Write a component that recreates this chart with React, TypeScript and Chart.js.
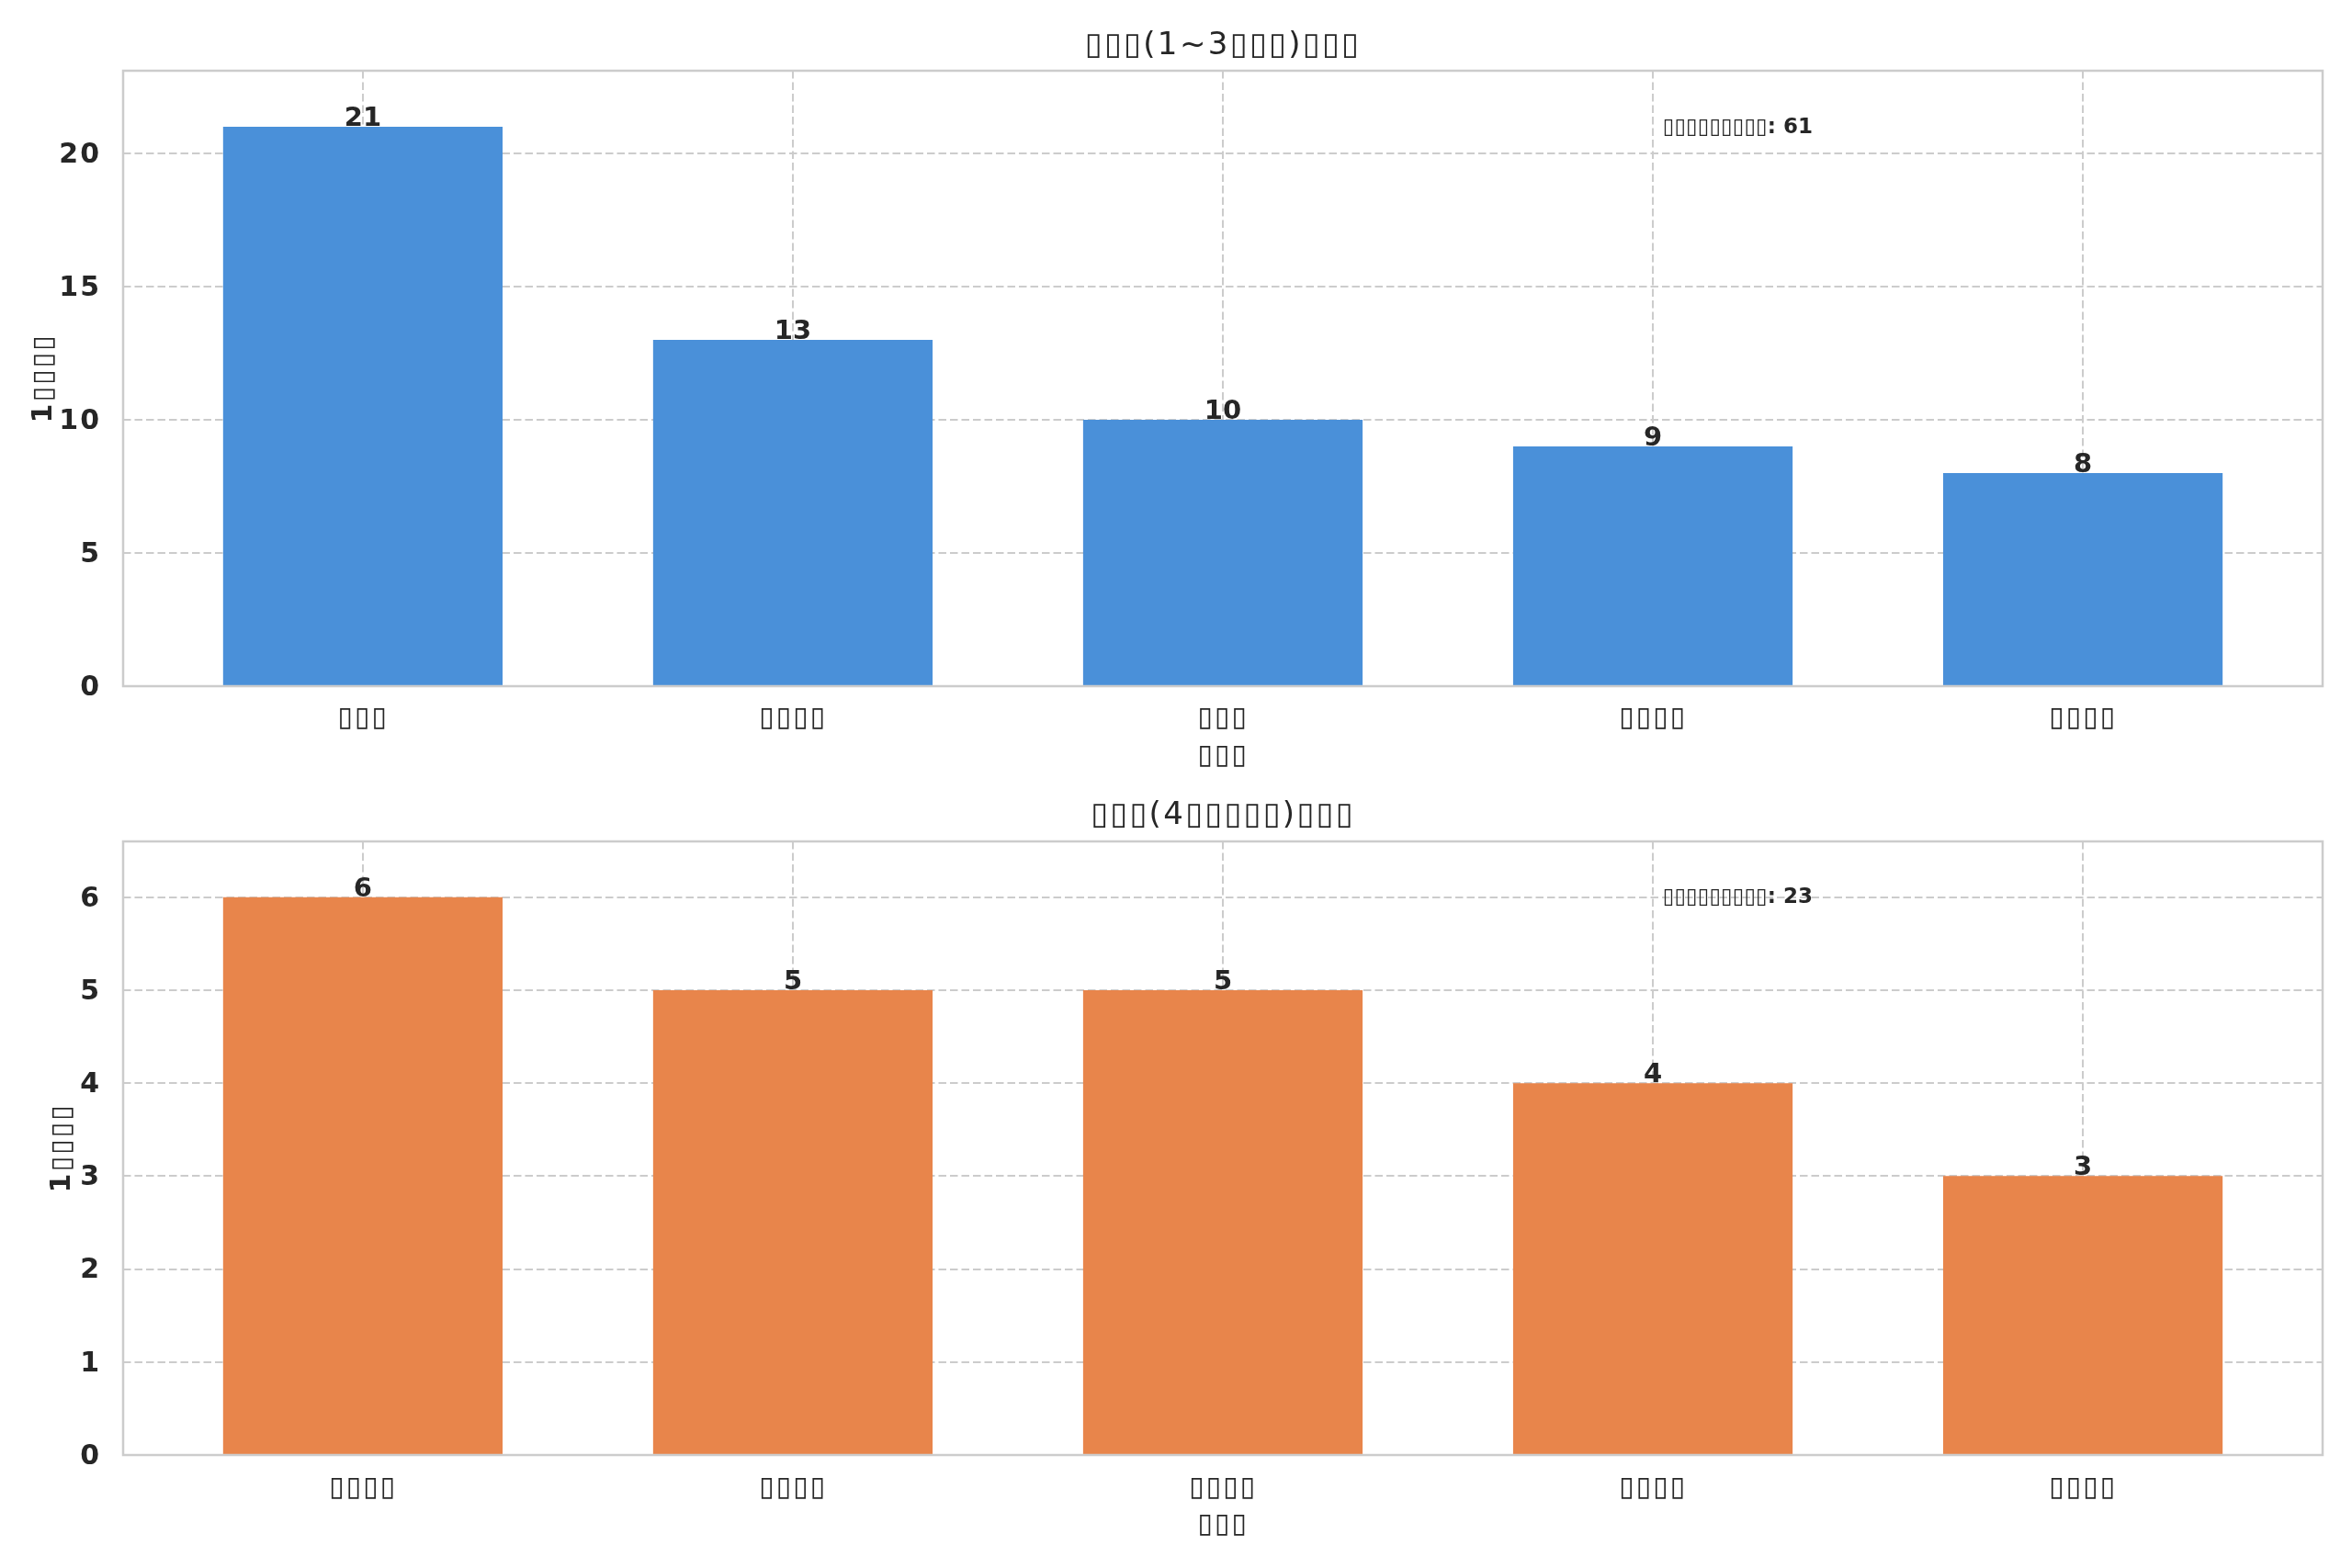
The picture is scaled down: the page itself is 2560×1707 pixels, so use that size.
import { useEffect, useRef } from 'react'
import { Chart, registerables } from 'chart.js'

Chart.register(...registerables)

// the reference renders every CJK glyph as an empty box
const TOFU = '\u25AF'
const box = (n: number) => TOFU.repeat(n)

const shortCategories = [box(3), box(4), box(3), box(4), box(4)]
const shortCounts = [21, 13, 10, 9, 8]
const shortTicks = [0, 5, 10, 15, 20]

const longCategories = [box(4), box(4), box(4), box(4), box(4)]
const longCounts = [6, 5, 5, 4, 3]
const longTicks = [0, 1, 2, 3, 4, 5, 6]

const shortTitle = `${box(3)}(1~3${box(3)})${box(3)}`
const longTitle = `${box(3)}(4${box(5)})${box(3)}`
const yLabel = `1${box(4)}`
const xLabel = box(3)
const totalLabel = box(9)

const FONT = "'DejaVu Sans', sans-serif"
const TEXT = '#262626'
const GRID = '#cccccc'

interface PanelProps {
  categories: string[]
  counts: number[]
  yTicks: number[]
  color: string
  title: string
  height: number
  areaTop: number
  titleY: number
  yTitlePad: number
  xAxisHeight: number
  xTickPad: number
  xTitlePad: number
}

function BarPanel(props: PanelProps) {
  const chartRef = useRef<HTMLCanvasElement>(null)
  const chartInstance = useRef<Chart | null>(null)

  useEffect(() => {
    if (!chartRef.current) return
    if (chartInstance.current) chartInstance.current.destroy()
    const ctx = chartRef.current.getContext('2d')
    if (!ctx) return

    const { categories, counts, yTicks } = props
    const total = counts.reduce((a, b) => a + b, 0)
    const yMax = Math.max(...counts) * 1.1
    const xPad = 0.325 + 0.05 * (categories.length - 1 + 0.65)

    const framePlugin = {
      id: 'frame',
      beforeDraw(chart: Chart) {
        // matplotlib's missing-glyph boxes run a little wider than the box character
        ;(chart.ctx as any).letterSpacing = '2px'
      },
      beforeDatasetsDraw(chart: Chart) {
        ;(chart.ctx as any).letterSpacing = '0px'
      },
      afterDatasetsDraw(chart: Chart) {
        const { ctx: c, chartArea: a } = chart
        c.save()

        // title centred over the plot area
        ;(c as any).letterSpacing = '2.4px'
        c.fillStyle = TEXT
        c.font = `normal 34px ${FONT}`
        c.textAlign = 'center'
        c.textBaseline = 'middle'
        c.fillText(props.title, (a.left + a.right) / 2, props.titleY)
        ;(c as any).letterSpacing = '0px'

        // value labels above the bars
        c.font = `bold 29px ${FONT}`
        c.textBaseline = 'alphabetic'
        chart.getDatasetMeta(0).data.forEach((bar: any, i: number) => {
          c.fillText(String(counts[i]), bar.x, bar.y - 1)
        })

        // total note
        c.font = `bold 23px ${FONT}`
        c.textAlign = 'left'
        c.fillText(
          `${totalLabel}: ${total}`,
          a.left + 0.7 * (a.right - a.left),
          a.bottom - 0.899 * (a.bottom - a.top)
        )

        // spines all around
        c.strokeStyle = GRID
        c.lineWidth = 2.5
        c.strokeRect(a.left, a.top, a.right - a.left, a.bottom - a.top)
        c.restore()
      },
    }

    chartInstance.current = new Chart(ctx, {
      type: 'bar',
      data: {
        datasets: [
          {
            data: counts.map((v, i) => ({ x: i, y: v })),
            backgroundColor: props.color,
            borderWidth: 0,
            categoryPercentage: 1,
            barPercentage: 0.65,
          },
        ],
      },
      options: {
        animation: false,
        responsive: true,
        maintainAspectRatio: false,
        layout: { padding: { left: 0, right: 32, top: props.areaTop, bottom: 0 } },
        plugins: {
          legend: { display: false },
          tooltip: { enabled: false },
          title: { display: false },
        },
        scales: {
          x: {
            type: 'linear',
            min: -xPad,
            max: categories.length - 1 + xPad,
            offset: false,
            afterBuildTicks: (axis: any) => {
              axis.ticks = categories.map((_, i) => ({ value: i }))
            },
            afterFit: (axis: any) => {
              axis.height = props.xAxisHeight
            },
            grid: {
              offset: false,
              color: GRID,
              lineWidth: 2,
              drawTicks: false,
            },
            border: { display: false, dash: [8.5, 4] },
            ticks: {
              autoSkip: false,
              maxRotation: 0,
              padding: props.xTickPad,
              color: TEXT,
              font: { family: FONT, size: 30, lineHeight: 1.2 },
              callback: (v: any) => categories[Math.round(Number(v))] ?? '',
            },
            title: {
              display: true,
              text: xLabel,
              color: TEXT,
              font: { family: FONT, size: 30, lineHeight: 1.2 },
              padding: { top: 0, bottom: props.xTitlePad },
            },
          },
          y: {
            min: 0,
            max: yMax,
            afterBuildTicks: (axis: any) => {
              axis.ticks = yTicks.map((v) => ({ value: v }))
            },
            afterFit: (axis: any) => {
              axis.width = 134
            },
            grid: {
              color: GRID,
              lineWidth: 2,
              drawTicks: false,
            },
            border: { display: false, dash: [8.5, 4] },
            ticks: {
              padding: 24,
              labelOffset: 2,
              color: TEXT,
              font: { family: FONT, size: 30, weight: 'bold' },
            },
            title: {
              display: true,
              text: yLabel,
              color: TEXT,
              font: { family: FONT, size: 30, weight: 'bold', lineHeight: 1.2 },
              padding: { top: props.yTitlePad, bottom: 0 },
            },
          },
        },
      },
      plugins: [framePlugin],
    } as any)

    return () => {
      if (chartInstance.current) {
        chartInstance.current.destroy()
        chartInstance.current = null
      }
    }
  }, [props])

  return (
    <div style={{ position: 'relative', width: 2560, height: props.height }}>
      <canvas ref={chartRef} />
    </div>
  )
}

const topProps: PanelProps = {
  categories: shortCategories,
  counts: shortCounts,
  yTicks: shortTicks,
  color: '#4a90d9',
  title: shortTitle,
  height: 854,
  areaTop: 77,
  titleY: 50,
  yTitlePad: 30,
  xAxisHeight: 107,
  xTickPad: 17,
  xTitlePad: 13,
}

const bottomProps: PanelProps = {
  categories: longCategories,
  counts: longCounts,
  yTicks: longTicks,
  color: '#e8854b',
  title: longTitle,
  height: 853,
  areaTop: 62,
  titleY: 34,
  yTitlePad: 50,
  xAxisHeight: 123,
  xTickPad: 18,
  xTitlePad: 29,
}

export default function App() {
  return (
    <div style={{ position: 'absolute', left: 0, top: 0, width: 2560, height: 1707, background: '#fff' }}>
      <BarPanel {...topProps} />
      <BarPanel {...bottomProps} />
    </div>
  )
}
